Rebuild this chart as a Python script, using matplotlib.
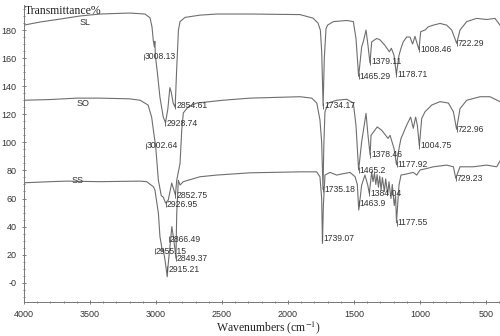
import matplotlib
matplotlib.use("Agg")
import matplotlib.pyplot as plt
from matplotlib.ticker import MultipleLocator, FixedLocator

# ---------------- data ----------------
sl_w = [4000, 3879, 3727, 3576, 3424, 3300, 3197, 3083, 3045, 3030, 3020, 3012, 3009, 3004, 2990,
        2970, 2945, 2928, 2910, 2895, 2885, 2870, 2855, 2843, 2830, 2818, 2780, 2667, 2540, 2288,
        2100, 1909, 1811, 1773, 1755, 1745, 1734, 1725, 1712, 1700, 1657, 1555, 1505, 1485, 1465,
        1442, 1430, 1409, 1394, 1379, 1366, 1328, 1303, 1265, 1232, 1217, 1197, 1179, 1159, 1144,
        1127, 1101, 1076, 1056, 1038, 1008, 995, 962, 937, 899, 848, 798, 760, 722, 697, 646, 571,
        495, 432, 394]
sl_t = [183.5, 185.7, 187.8, 190, 191.4, 191.8, 192.1, 191.4, 188.6, 182, 172, 168, 172, 161, 150,
        132, 118, 114, 124, 139, 136, 128, 125, 153, 180, 186, 189, 190.6, 191.4, 191.4,
        191.2, 191, 188.5, 185, 180, 165, 126, 160, 181, 183.5, 186, 186.8, 186, 174, 147,
        168, 171.6, 180, 169, 156.5, 171.6, 174, 173, 169, 164.5, 167, 162, 148.5, 162, 167,
        171.6, 175, 175, 170, 175.5, 166, 178.8, 180, 182.3, 183.5, 184.7, 183.5, 180, 170.5, 180,
        186, 188.3, 187.5, 188.3, 183.5]

so_w = [4000, 3800, 3600, 3424, 3200, 3121, 3060, 3033, 3020, 3003, 2982, 2960, 2945, 2927, 2907,
        2881, 2861, 2853, 2843, 2818, 2805, 2793, 2755, 2692, 2492, 2288, 1909, 1820, 1782, 1758,
        1745, 1735, 1728, 1720, 1695, 1631, 1555, 1505, 1485, 1465, 1442, 1409, 1394, 1378, 1371,
        1324, 1290, 1242, 1227, 1197, 1178, 1159, 1144, 1127, 1101, 1071, 1051, 1033, 1020, 1005,
        987, 962, 911, 848, 785, 747, 723, 697, 646, 545, 470, 394]
so_t = [130, 130.5, 131.5, 131.5, 131, 130, 126.6, 118, 108.8, 97.6, 73, 62, 61, 56.7, 59,
        71, 65, 62.5, 73, 85, 108.8, 121, 125.4, 128, 130, 131.5, 132.5, 131.5, 128, 116,
        100, 66.5, 100, 121.8, 128, 130, 130.7, 128, 112, 80.3, 100.4, 120.6, 105, 91, 105,
        111, 108.6, 102.8, 105, 95.7, 84, 95.7, 102.8, 106.4, 112.3, 118, 110, 118, 112, 97.6,
        117, 121.8, 126.6, 129, 128, 121.8, 109.3, 124, 130, 132.5, 132.5, 129]

ss_w = [4000, 3800, 3677, 3424, 3121, 3071, 3020, 3008, 2982, 2970, 2957, 2955, 2945, 2930, 2915,
        2907, 2890, 2880, 2866, 2858, 2849, 2843, 2831, 2818, 2793, 2667, 2540, 2288, 1909, 1783,
        1758, 1745, 1739, 1732, 1720, 1682, 1631, 1593, 1530, 1492, 1475, 1464, 1442, 1417, 1396,
        1384, 1366, 1356, 1345, 1335, 1325, 1315, 1305, 1295, 1285, 1270, 1260, 1245, 1235, 1220,
        1210, 1195, 1185, 1178, 1165, 1159, 1144, 1101, 1051, 1025, 1000, 949, 899, 798, 747,
        729, 697, 596, 495, 419, 394]
ss_t = [71.2, 72, 72.4, 72, 72.4, 72, 68.4, 66, 49.6, 32.8, 25.6, 22.6, 24, 15, 4.3,
        13.8, 30, 40, 31, 25, 17.4, 49.6, 73, 69.6, 72, 75.5, 76.7, 78.3, 79, 79,
        75.5, 60, 28, 55, 76.7, 78.6, 76.7, 77.5, 78.6, 75.5, 70, 51.8, 69.6, 76.7, 69.6,
        63.7, 79, 72, 78, 70, 77, 68, 76, 66, 75, 65, 74, 63, 72, 60,
        70, 55, 62, 42.7, 62, 69.6, 76.7, 77.5, 78.6, 76.7, 80.3, 81.4, 82.6, 83.8, 82.6,
        74.4, 82.6, 82.6, 83.8, 82.6, 86.7]

sl_labels = ["3008.13", "2928.74", "2854.61", "1734.17", "1465.29", "1379.11", "1178.71", "1008.46", "722.29"]
sl_peak_t = [160.8, 113.7, 125.9, 125.9, 147.2, 157.4, 148.4, 166.2, 170.5]
so_labels = ["3002.64", "2926.95", "2852.75", "1735.18", "1465.2", "1378.46", "1177.92", "1004.75", "722.96"]
so_peak_t = [97.6, 55.8, 62.5, 66.5, 80.3, 91.0, 84.3, 97.6, 109.3]
ss_labels = ["2955.15", "2915.21", "2866.49", "2849.37", "1739.07", "1463.9", "1384.04", "1177.55", "729.23"]
ss_peak_t = [22.6, 9.5, 30.9, 17.4, 31.6, 56.6, 63.7, 42.7, 74.4]

names = ["SL", "SO", "SS"]
name_w = [3540, 3553, 3598]
name_t = [185.3, 128, 73]

xticks = [4000, 3500, 3000, 2500, 2000, 1500, 1000, 500]
yticks = [0, 20, 40, 60, 80, 100, 120, 140, 160, 180]
ytick_labels = ["-0", "20", "40", "60", "80", "100", "120", "140", "160", "180"]

# label x shifts in pixels (layout)
label_shift = {"3008.13": -11, "3002.64": -10, "2955.15": -7, "2866.49": -5}

# ---------------- plot ----------------
fig = plt.figure(figsize=(5.0, 3.36), dpi=100)
ax = fig.add_axes([0.048, 0.1012, 0.952, 0.8838])

line_col = "#6e6e6e"
for w, t in [(sl_w, sl_t), (so_w, so_t), (ss_w, ss_t)]:
    ax.plot(w, t, color=line_col, lw=0.8)

from matplotlib.transforms import offset_copy
sans = "Liberation Sans"
for labs, ts in [(sl_labels, sl_peak_t), (so_labels, so_peak_t), (ss_labels, ss_peak_t)]:
    for lab, t in zip(labs, ts):
        wv = float(lab)
        dx = label_shift.get(lab, 0) * 72 / 100.0
        tr = offset_copy(ax.transData, fig=fig, x=dx, y=0, units="points")
        ax.plot([wv], [t], marker="|", markersize=5, color="#555555", mew=0.6, transform=tr)
        tr2 = offset_copy(ax.transData, fig=fig, x=dx + 0.8, y=0, units="points")
        ax.text(wv, t, lab, transform=tr2, ha="left", va="center", fontsize=6.2,
                family=sans, color="#333333")

for n, w, t in zip(names, name_w, name_t):
    ax.text(w, t, n, ha="center", va="center", fontsize=6.5, family=sans, color="#333333")

ax.set_xlim(4000, 394)
ax.set_ylim(-13.7, 197.8)
ax.spines["top"].set_visible(False)
ax.spines["right"].set_visible(False)
for s in ["left", "bottom"]:
    ax.spines[s].set_color("#777777")
    ax.spines[s].set_linewidth(0.7)

ax.xaxis.set_major_locator(FixedLocator(xticks))
ax.xaxis.set_minor_locator(MultipleLocator(100))
ax.yaxis.set_major_locator(FixedLocator(yticks))
ax.set_yticklabels(ytick_labels)
ax.yaxis.set_minor_locator(MultipleLocator(5))
ax.tick_params(axis="both", which="both", direction="inout", color="#666666", width=0.6)
ax.tick_params(axis="both", which="major", length=3, labelsize=6.5, labelcolor="#333333", pad=4)
ax.tick_params(axis="both", which="minor", length=2)
for lbl in ax.get_xticklabels() + ax.get_yticklabels():
    lbl.set_family(sans)

fig.text(0.05, 0.985, "Transmittance%", ha="left", va="top", fontsize=8.5,
         family="Liberation Serif", color="#222222")
fig.text(0.536, 0.024, "Wavenumbers (cm$^{-1}$)", ha="center", va="center", fontsize=8.5,
         family="Liberation Serif", color="#222222", math_fontfamily="stix")

fig.savefig("out.png", dpi=100)
